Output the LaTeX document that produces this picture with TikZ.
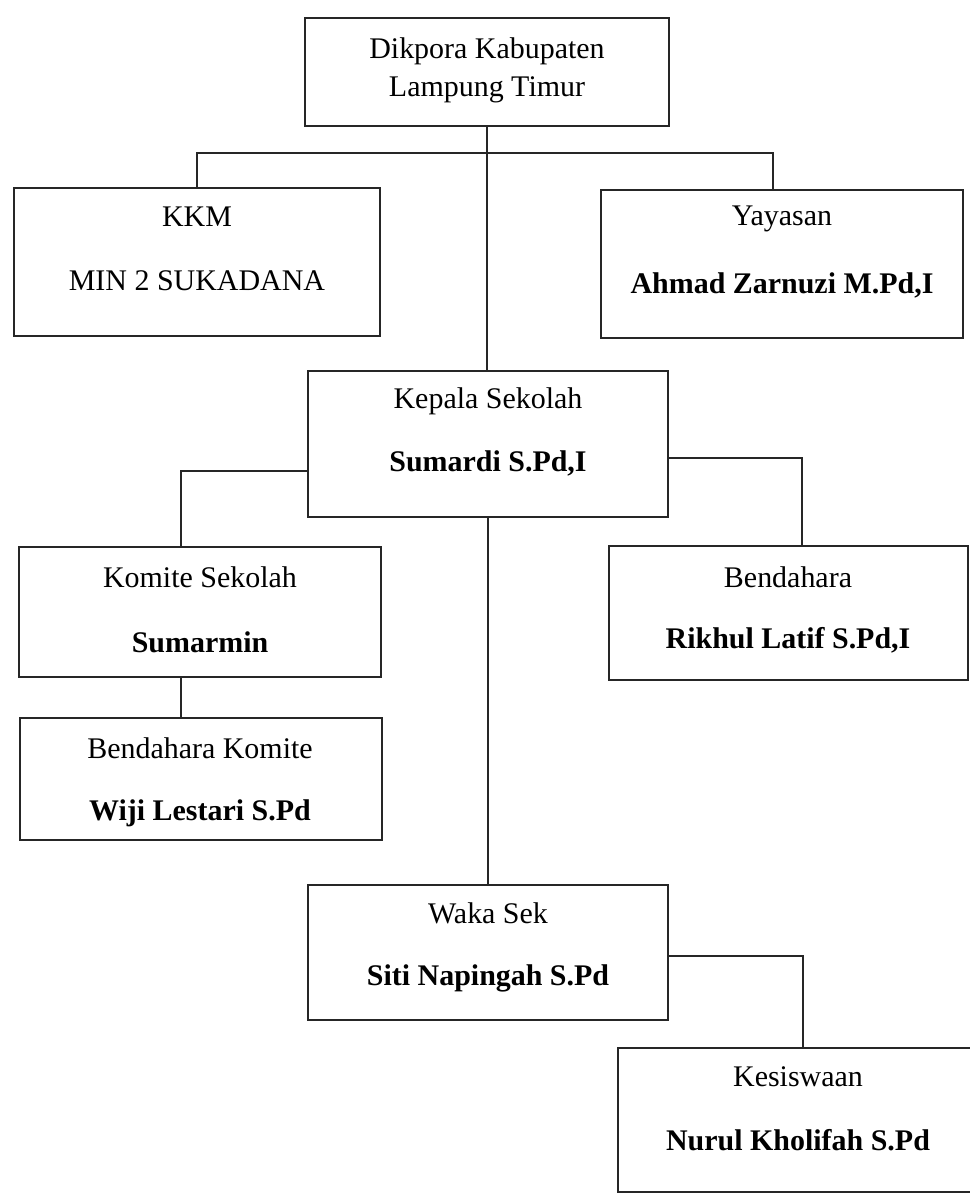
\documentclass[tikz,border=0pt]{standalone}
\usepackage{fontspec}
\setmainfont{Liberation Serif}
\definecolor{linegray}{rgb}{0.15,0.15,0.15}
\newcommand{\orgfont}{\fontsize{21.3}{27}\selectfont}
\tikzset{
  orgbox/.style={draw=linegray, line width=1.6pt, inner sep=0pt, outer sep=0pt},
  orgline/.style={draw=linegray, line width=1.1pt},
  lbl/.style={font=\orgfont, inner sep=0pt, align=center},
  lblb/.style={font=\orgfont\bfseries, inner sep=0pt}
}
\begin{document}
\begin{tikzpicture}[x=0.025cm,y=-0.025cm]
  \useasboundingbox (0,0) rectangle (970,1195);
  % Boxes
  \node[orgbox, minimum width=9.1cm, minimum height=2.7cm] (dik) at (487,72) {};
  \node[orgbox, minimum width=9.15cm, minimum height=3.7cm] (kkm) at (197,262) {};
  \node[orgbox, minimum width=9.05cm, minimum height=3.7cm] (yay) at (782,264) {};
  \node[orgbox, minimum width=9.0cm, minimum height=3.65cm] (kep) at (488,444) {};
  \node[orgbox, minimum width=9.05cm, minimum height=3.25cm] (kom) at (200,612) {};
  \node[orgbox, minimum width=8.975cm, minimum height=3.35cm] (ben) at (788.5,613) {};
  \node[orgbox, minimum width=9.05cm, minimum height=3.05cm] (bko) at (201,779) {};
  \node[orgbox, minimum width=9.0cm, minimum height=3.375cm] (wak) at (488,952.5) {};
  \node[orgbox, minimum width=8.95cm, minimum height=3.6cm] (kes) at (797,1120) {};
  % Texts
  \node[lbl] (dik-t) at (487,70) {Dikpora Kabupaten\\Lampung Timur};
  \node[lbl] (kkm-t) at (197,217) {KKM};
  \node[lbl] (kkm-n) at (197,281) {MIN 2 SUKADANA};
  \node[lbl] (yay-t) at (782,219) {Yayasan};
  \node[lblb] (yay-n) at (782,285) {Ahmad Zarnuzi M.Pd,I};
  \node[lbl] (kep-t) at (488,401) {Kepala Sekolah};
  \node[lblb] (kep-n) at (488,463) {Sumardi S.Pd,I};
  \node[lbl] (kom-t) at (200,577) {Komite Sekolah};
  \node[lblb] (kom-n) at (200,642) {Sumarmin};
  \node[lbl] (ben-t) at (788,577) {Bendahara};
  \node[lblb] (ben-n) at (788,640) {Rikhul Latif S.Pd,I};
  \node[lbl] (bko-t) at (200,748) {Bendahara Komite};
  \node[lblb] (bko-n) at (200,813) {Wiji Lestari S.Pd};
  \node[lbl] (wak-t) at (488,913) {Waka Sek};
  \node[lblb] (wak-n) at (488,978) {Siti Napingah S.Pd};
  \node[lbl] (kes-t) at (798,1077) {Kesiswaan};
  \node[lblb] (kes-n) at (798,1140) {Nurul Kholifah S.Pd};
  % Connectors
  \coordinate (bar-l) at (197,153);
  \coordinate (bar-r) at (773,153);
  \coordinate (kom-in) at (181,471);
  \coordinate (ben-in) at (802,458);
  \coordinate (kes-in) at (803,956);
  \draw[orgline] (dik.south) -- (dik.south |- kep.north);
  \draw[orgline] (kkm.north) -- (bar-l) -- (bar-r) -- (bar-r |- yay.north);
  \draw[orgline] (kep.west |- kom-in) -- (kom-in) -- (kom-in |- kom.north);
  \draw[orgline] (kep.east |- ben-in) -- (ben-in) -- (ben-in |- ben.north);
  \draw[orgline] (kom-in |- kom.south) -- (kom-in |- bko.north);
  \draw[orgline] (kep.south) -- (wak.north);
  \draw[orgline] (wak.east |- kes-in) -- (kes-in) -- (kes-in |- kes.north);
\end{tikzpicture}
\end{document}
